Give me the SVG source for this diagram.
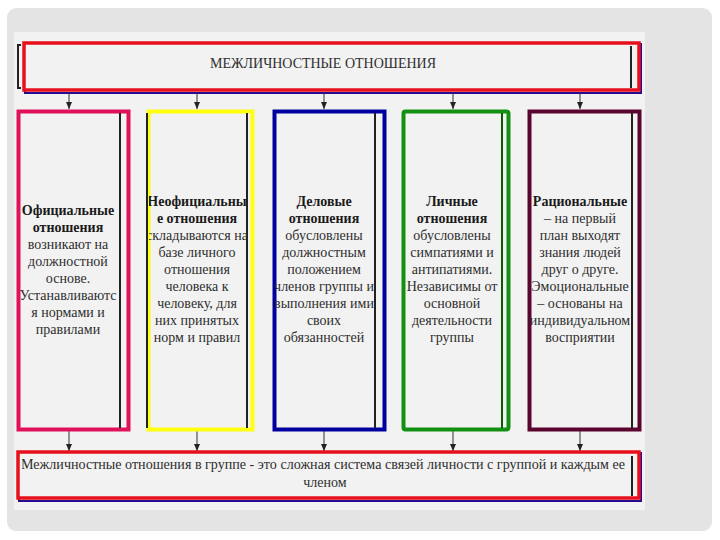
<svg xmlns="http://www.w3.org/2000/svg" width="720" height="540" viewBox="0 0 720 540">
<style>
.t{font-family:"Liberation Serif","Times New Roman",serif;fill:#2e2e2e;font-size:14px;text-anchor:middle}
.b{font-weight:bold;fill:#1a1a1a}
.ar{stroke:#333;stroke-width:1;fill:none;marker-end:url(#ah)}
.inner{stroke:#222;stroke-width:2;fill:none}
</style>
<defs>
<marker id="ah" markerWidth="8" markerHeight="8" refX="7" refY="4" orient="auto" markerUnits="userSpaceOnUse">
<path d="M0,1 L7,4 L0,7 Z" fill="#222"/>
</marker>
<clipPath id="c1"><rect x="19" y="112" width="101" height="316"/></clipPath>
<clipPath id="c2"><rect x="149" y="112" width="98" height="316"/></clipPath>
<clipPath id="c3"><rect x="275" y="112" width="100" height="316"/></clipPath>
<clipPath id="c4"><rect x="404" y="112" width="98" height="316"/></clipPath>
<clipPath id="c5"><rect x="530" y="112" width="102" height="316"/></clipPath>
<clipPath id="cb"><rect x="22" y="455" width="610" height="42"/></clipPath>
</defs>
<rect width="720" height="540" fill="#ffffff"/>
<rect x="7" y="8" width="705" height="523" rx="9" fill="#e4e4e4"/>
<rect x="14" y="32" width="631" height="478" fill="#f2f2f2"/>

<g id="top">
<rect x="25" y="44" width="616" height="49" fill="none" stroke="#2a0a90" stroke-width="2"/>
<rect x="24" y="43" width="615" height="47" fill="#f2f2f2" stroke="#e8101c" stroke-width="3.5"/>
<path d="M21,45 L18,45 L18,88 L21,88" class="inner" stroke-width="1.5"/>
<line x1="631" y1="46" x2="631" y2="88" class="inner" stroke-width="1.5"/>
<text x="323" y="68" class="t" font-size="14.5" textLength="226" lengthAdjust="spacingAndGlyphs">МЕЖЛИЧНОСТНЫЕ ОТНОШЕНИЯ</text>
</g>

<g id="connectors">
<line x1="69" y1="93" x2="69" y2="109" class="ar"/>
<line x1="197" y1="93" x2="197" y2="109" class="ar"/>
<line x1="324" y1="93" x2="324" y2="109" class="ar"/>
<line x1="453" y1="93" x2="453" y2="109" class="ar"/>
<line x1="580" y1="93" x2="580" y2="109" class="ar"/>
<line x1="69" y1="431" x2="69" y2="451" class="ar"/>
<line x1="197" y1="431" x2="197" y2="451" class="ar"/>
<line x1="324" y1="431" x2="324" y2="451" class="ar"/>
<line x1="453" y1="431" x2="453" y2="451" class="ar"/>
<line x1="580" y1="431" x2="580" y2="451" class="ar"/>
</g>

<g id="official">
<rect x="18.5" y="111.5" width="110" height="318" fill="#f2f2f2" stroke="#e0105a" stroke-width="4"/>
<line x1="120" y1="113" x2="120" y2="428" class="inner"/>
<g clip-path="url(#c1)">
<text class="t" x="68" y="215"><tspan class="b" x="68">Официальные</tspan><tspan class="b" x="68" dy="17">отношения</tspan><tspan x="68" dy="17">возникают на</tspan><tspan x="68" dy="17">должностной</tspan><tspan x="68" dy="17">основе.</tspan><tspan x="68" dy="17">Устанавливаютс</tspan><tspan x="68" dy="17">я нормами и</tspan><tspan x="68" dy="17">правилами</tspan></text>
</g>
</g>

<g id="unofficial">
<rect x="148.5" y="111.5" width="104" height="318" fill="#f2f2f2" stroke="#ffff10" stroke-width="4"/>
<line x1="147" y1="113" x2="147" y2="428" class="inner"/>
<line x1="247" y1="113" x2="247" y2="428" class="inner"/>
<g clip-path="url(#c2)">
<text class="t" x="197" y="206"><tspan class="b" x="197">Неофициальны</tspan><tspan class="b" x="197" dy="17">е отношения</tspan><tspan x="197" dy="17">складываются на</tspan><tspan x="197" dy="17">базе личного</tspan><tspan x="197" dy="17">отношения</tspan><tspan x="197" dy="17">человека к</tspan><tspan x="197" dy="17">человеку, для</tspan><tspan x="197" dy="17">них принятых</tspan><tspan x="197" dy="17">норм и правил</tspan></text>
</g>
</g>

<g id="business">
<rect x="274.5" y="111.5" width="110" height="318" fill="#f2f2f2" stroke="#0000a0" stroke-width="4"/>
<line x1="375" y1="113" x2="375" y2="428" class="inner"/>
<g clip-path="url(#c3)">
<text class="t" x="324" y="206"><tspan class="b" x="324">Деловые</tspan><tspan class="b" x="324" dy="17">отношения</tspan><tspan x="324" dy="17">обусловлены</tspan><tspan x="324" dy="17">должностным</tspan><tspan x="324" dy="17">положением</tspan><tspan x="324" dy="17">членов группы и</tspan><tspan x="324" dy="17">выполнения ими</tspan><tspan x="324" dy="17">своих</tspan><tspan x="324" dy="17">обязанностей</tspan></text>
</g>
</g>

<g id="personal">
<rect x="403.5" y="111.5" width="105" height="318" rx="2" fill="#f2f2f2" stroke="#129012" stroke-width="4"/>
<line x1="502" y1="113" x2="502" y2="428" stroke="#0a5a0a" stroke-width="2"/>
<g clip-path="url(#c4)">
<text class="t" x="452" y="206"><tspan class="b" x="452">Личные</tspan><tspan class="b" x="452" dy="17">отношения</tspan><tspan x="452" dy="17">обусловлены</tspan><tspan x="452" dy="17">симпатиями и</tspan><tspan x="452" dy="17">антипатиями.</tspan><tspan x="452" dy="17">Независимы от</tspan><tspan x="452" dy="17">основной</tspan><tspan x="452" dy="17">деятельности</tspan><tspan x="452" dy="17">группы</tspan></text>
</g>
</g>

<g id="rational">
<rect x="529.5" y="111.5" width="110" height="318" fill="#f2f2f2" stroke="#5a0430" stroke-width="4"/>
<line x1="632" y1="113" x2="632" y2="428" class="inner"/>
<g clip-path="url(#c5)">
<text class="t" x="580" y="206"><tspan class="b" x="580">Рациональные</tspan><tspan x="580" dy="17">– на первый</tspan><tspan x="580" dy="17">план выходят</tspan><tspan x="580" dy="17">знания людей</tspan><tspan x="580" dy="17">друг о друге.</tspan><tspan x="580" dy="17">Эмоциональные</tspan><tspan x="580" dy="17">– основаны на</tspan><tspan x="580" dy="17">индивидуальном</tspan><tspan x="580" dy="17">восприятии</tspan></text>
</g>
</g>

<g id="bottom">
<rect x="19" y="453" width="622" height="48" fill="none" stroke="#2a0a90" stroke-width="2"/>
<rect x="18" y="452" width="621" height="46" fill="#f2f2f2" stroke="#e8101c" stroke-width="3.5"/>
<line x1="632" y1="456" x2="632" y2="496" class="inner" stroke-width="1.5"/>
<g clip-path="url(#cb)">
<text class="t" x="323" y="469" textLength="604" lengthAdjust="spacingAndGlyphs">Межличностные отношения в группе - это сложная система связей личности с группой и каждым ее</text>
<text class="t" x="325" y="487">членом</text>
</g>
</g>
</svg>
